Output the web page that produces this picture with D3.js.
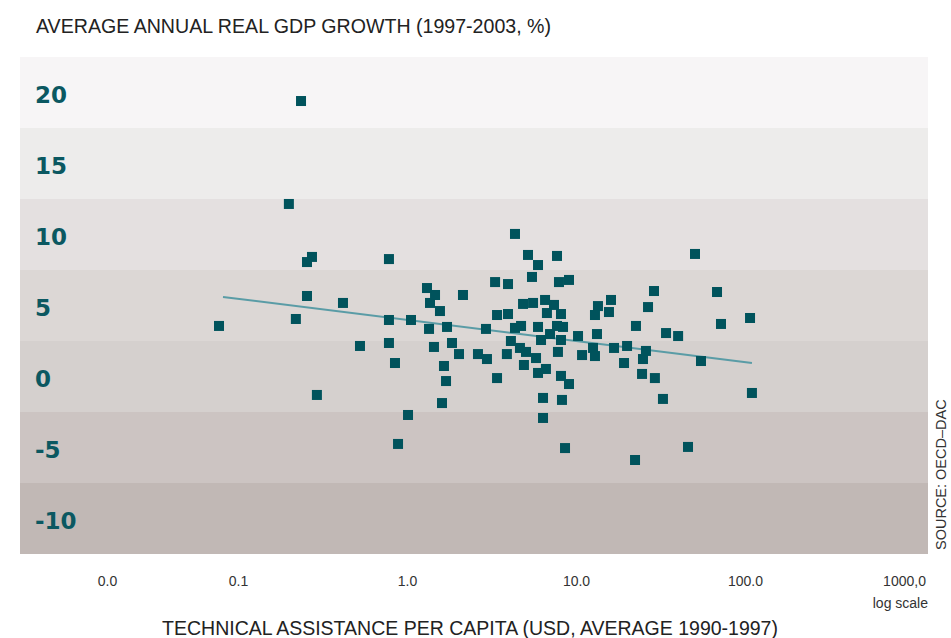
<!DOCTYPE html>
<html>
<head>
<meta charset="utf-8">
<script src="https://cdn.jsdelivr.net/npm/d3@7"></script>
<style>
  body { margin: 0; background: #fff; }
  svg { display: block; font-family: "Liberation Sans", Arial, sans-serif; }
</style>
</head>
<body>
<svg width="951" height="638"></svg>
<script>
// technical assistance per capita (USD, log) vs GDP growth (%)
const assistance = [
  0.236, 0.200, 0.274, 0.256, 0.256, 0.220, 0.418, 0.0772, 0.527, 0.293,
  0.782, 1.056, 0.782, 0.849, 1.014, 0.885, 1.368, 1.567, 1.350, 1.725,
  1.444, 1.846, 2.031, 1.655, 1.702, 1.611, 2.630, 2.973, 2.933, 3.41,
  3.41, 4.355, 0.782, 5.20, 5.96, 7.72, 5.49, 3.32, 3.96, 7.93,
  9.09, 1.313, 1.465, 2.144, 4.86, 5.57, 6.56, 7.41, 6.73, 8.15,
  3.96, 4.355, 4.73, 5.96, 7.72, 8.38, 4.12, 6.21, 7.02, 8.15,
  10.28, 13.31, 16.11, 13.49, 12.95, 15.67, 22.64, 28.94, 26.68, 3.90,
  4.66, 5.06, 5.80, 7.82, 10.86, 12.61, 12.95, 16.79, 20.05, 19.24,
  24.91, 25.94, 24.59, 4.92, 5.96, 6.64, 8.15, 9.09, 6.38, 8.26,
  6.38, 8.61, 22.35, 50.6, 68.3, 107.1, 72.1, 34.1, 40.2, 54.9,
  29.3, 32.7, 109.9, 46.0
];
const growth = [
  19.4, 12.15, 8.42, 8.06, 5.67, 4.05, 5.18, 3.56, 2.15, -1.30,
  3.98, 3.98, 2.36, 0.95, -2.71, -4.75, 5.18, 4.61, 3.35, 3.49,
  2.08, 2.36, 1.58, 0.74, -0.32, -1.87, 1.58, 1.23, 3.35, 4.33,
  -0.11, 10.04, 8.27, 8.56, 7.85, 8.49, 7.01, 6.65, 6.51, 6.65,
  6.80, 6.23, 5.74, 5.74, 5.11, 5.18, 5.39, 5.04, 4.47, 4.40,
  4.40, 3.42, 3.56, 3.49, 3.56, 3.49, 2.50, 2.57, 2.99, 2.57,
  2.85, 2.99, 5.39, 4.96, 4.33, 4.54, 3.56, 6.02, 4.89, 1.58,
  2.01, 1.73, 1.30, 1.73, 1.51, 2.01, 1.44, 2.01, 2.15, 0.95,
  1.23, 1.80, 0.18, 0.81, 0.25, 0.53, 0.04, -0.53, -1.51, -1.65,
  -2.92, -5.04, -5.88, 8.63, 5.95, 4.12, 3.70, 3.06, 2.85, 1.09,
  -0.11, -1.58, -1.16, -4.96
];
// trend line end points
const trendX = [0.0815, 109.9];
const trendY = [5.60, 0.95];

const yTicks = [20, 15, 10, 5, 0, -5, -10];
const bandColors = ['#f7f5f6', '#edeceb', '#e4e0e0', '#dcd7d5', '#d5d0ce', '#ccc4c2', '#c1b8b5'];
const xTicks = [0.01, 0.1, 1, 10, 100, 1000];
const xTickLabels = ['0.0', '0.1', '1.0', '10.0', '100.0', '1000,0'];

const title = 'AVERAGE ANNUAL REAL GDP GROWTH (1997-2003, %)';
const xAxisLabel = 'TECHNICAL ASSISTANCE PER CAPITA (USD, AVERAGE 1990-1997)';
const source = 'SOURCE: OECD\u2013DAC';

const svg = d3.select('svg');
const plot = { left: 20, right: 928, top: 57, bottom: 554 };

const xScale = d3.scaleLog()
  .domain([0.1, 100])
  .range([238, 745]);

const yScale = d3.scaleLinear()
  .domain([-12.5, 22.5])
  .range([plot.bottom, plot.top]);

// horizontal bands
svg.append('g').selectAll('rect').data(yTicks)
  .enter().append('rect')
  .attr('x', plot.left)
  .attr('width', plot.right - plot.left)
  .attr('y', d => yScale(d + 2.5))
  .attr('height', d => yScale(d - 2.5) - yScale(d + 2.5))
  .attr('fill', (d, i) => bandColors[i]);

// y labels
svg.append('g').selectAll('text').data(yTicks)
  .enter().append('text')
  .attr('x', 35)
  .attr('y', d => yScale(d) + 10.5)
  .attr('fill', '#0b5861')
  .attr('font-size', 23)
  .attr('font-family', '"DejaVu Sans", sans-serif')
  .attr('font-weight', 'bold')
  .text(d => d);

// x axis
const xAxis = d3.axisBottom(xScale)
  .tickValues(xTicks)
  .tickFormat((d, i) => xTickLabels[i])
  .tickSize(0)
  .tickPadding(0);

const xAxisG = svg.append('g')
  .attr('transform', `translate(0,${576})`)
  .call(xAxis);
xAxisG.select('.domain').remove();
xAxisG.selectAll('text')
  .attr('font-size', 14)
  .attr('font-family', '"Liberation Sans", Arial, sans-serif')
  .attr('fill', '#333');
// first and last labels sit inside the frame
xAxisG.selectAll('.tick').filter((d, i) => i === 0).select('text').attr('dx', 38);
xAxisG.selectAll('.tick').filter((d, i) => i === xTicks.length - 1).select('text').attr('dx', -10);

svg.append('text')
  .attr('x', plot.right)
  .attr('y', 608)
  .attr('text-anchor', 'end')
  .attr('font-size', 14)
  .attr('fill', '#333')
  .text('log scale');

svg.append('text')
  .attr('x', 470)
  .attr('y', 635)
  .attr('text-anchor', 'middle')
  .attr('font-size', 19.5)
  .attr('fill', '#222')
  .text(xAxisLabel);

svg.append('text')
  .attr('x', 36)
  .attr('y', 33)
  .attr('font-size', 19.6)
  .attr('fill', '#222')
  .text(title);

svg.append('text')
  .attr('transform', `translate(946,${550}) rotate(-90)`)
  .attr('font-size', 14.5)
  .attr('fill', '#333')
  .text(source);

// trend line
const lineGenerator = d3.line()
  .x(d => xScale(d[0]))
  .y(d => yScale(d[1]));

svg.append('path')
  .attr('d', lineGenerator(d3.zip(trendX, trendY)))
  .attr('fill', 'none')
  .attr('stroke', '#5a9ca6')
  .attr('stroke-width', 2);

// points
const size = 10;
svg.append('g').selectAll('rect').data(d3.zip(assistance, growth))
  .enter().append('rect')
  .attr('x', d => xScale(d[0]) - size / 2)
  .attr('y', d => yScale(d[1]) - size / 2)
  .attr('width', size)
  .attr('height', size)
  .attr('fill', '#00535c');
</script>
</body>
</html>
